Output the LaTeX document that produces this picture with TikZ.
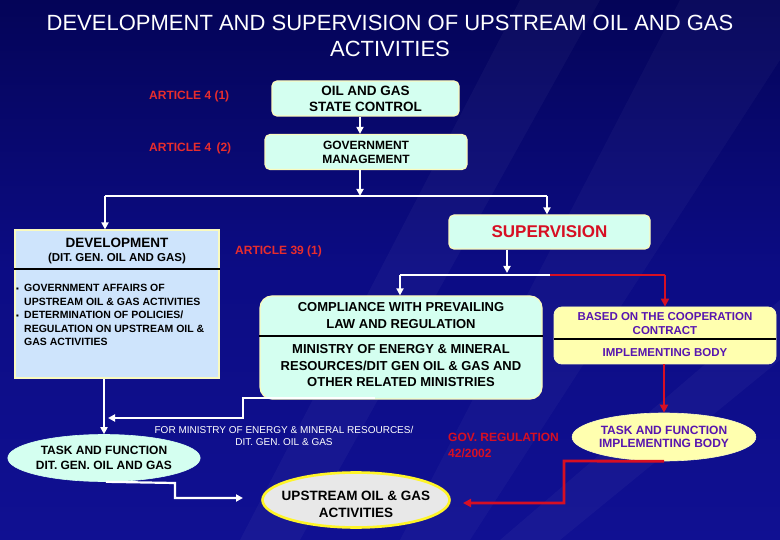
\documentclass[tikz,border=0pt]{standalone}
\usepackage{fontspec}
\setmainfont{Liberation Sans}
\usetikzlibrary{shapes.geometric,arrows.meta,calc}
\definecolor{bgtop}{RGB}{4,4,88}
\definecolor{bgbot}{RGB}{16,16,146}
\definecolor{cyanfill}{RGB}{212,255,240}
\definecolor{devfill}{RGB}{206,228,252}
\definecolor{yelfill}{RGB}{255,255,175}
\definecolor{paleborder}{RGB}{250,250,190}
\definecolor{redline}{RGB}{215,15,35}
\definecolor{redtext}{RGB}{232,45,45}
\definecolor{purtext}{RGB}{88,22,175}
\definecolor{greyfill}{RGB}{232,232,232}
\newcommand\myfs[2]{\fontsize{#1}{#2}\selectfont}
\tikzset{
  boxc/.style={draw=paleborder, line width=1.2pt, fill=cyanfill, rounded corners=5pt},
  wline/.style={draw=white, line width=2.2pt, -{Triangle[length=7pt,width=7pt]}},
  wplain/.style={draw=white, line width=2.2pt},
  rline/.style={draw=redline, line width=2.8pt, -{Triangle[length=8pt,width=8pt]}},
  rplain/.style={draw=redline, line width=2.8pt},
  redlbl/.style={text=redtext, font=\myfs{12}{16}\bfseries, anchor=west, inner sep=0pt, align=left},
  divline/.style={draw=black, line width=1.8pt},
  txt/.style={inner sep=0pt, align=center}
}
\begin{document}
\begin{tikzpicture}[x=1pt,y=-1pt]
\useasboundingbox (0,0) rectangle (780,540);
% background
\shade[top color=bgtop, bottom color=bgbot, middle color={rgb,255:red,12;green,12;blue,132}] (0,0) rectangle (780,540);
\fill[white,opacity=0.035] (520,0) -- (600,0) -- (300,540) -- (240,540) -- cycle;
\fill[white,opacity=0.03] (680,0) -- (780,0) -- (780,60) -- (470,540) -- (400,540) -- cycle;
\fill[white,opacity=0.035] (780,300) -- (780,360) -- (560,540) -- (500,540) -- cycle;

% title
\node[txt, text=white, font=\myfs{22}{26}] (title) at (390,36) {DEVELOPMENT AND SUPERVISION OF UPSTREAM OIL AND GAS\\ACTIVITIES};

% top boxes
\node[boxc, minimum width=187pt, minimum height=35pt, font=\myfs{13.5}{16}\bfseries, align=center] (ctrl) at (365.5,98.5) {OIL AND GAS\\STATE CONTROL};
\node[boxc, minimum width=202pt, minimum height=35pt, font=\myfs{12}{14}\bfseries, align=center] (gov) at (366,152) {GOVERNMENT\\MANAGEMENT};
\node[redlbl] (a41) at (149,96) {ARTICLE 4 (1)};
\node[redlbl] (a42) at (149,148) {ARTICLE 4 \,(2)};

% supervision
\node[boxc, minimum width=201pt, minimum height=34pt, text=redline, font=\myfs{17}{20}\bfseries] (sup) at (549.5,232) {SUPERVISION};

% development box
\node[draw=paleborder, line width=1.2pt, fill=devfill, minimum width=204pt, minimum height=148pt] (dev) at (117,304) {};
\draw[divline] (dev.west |- 0,269) -- (dev.east |- 0,269);
\node[txt, font=\myfs{13.5}{16}\bfseries] (devt) at (117,243) {DEVELOPMENT};
\node[txt, font=\myfs{11.5}{14}\bfseries] (devs) at (117,259) {(DIT. GEN. OIL AND GAS)};
\node[inner sep=0pt, anchor=north west, align=left, font=\myfs{10.5}{13.5}\bfseries] (devb) at (16,284)
 {\makebox[8pt][l]{\myfs{8}{13.5}▪}GOVERNMENT AFFAIRS OF\\
  \hspace*{8pt}UPSTREAM OIL \& GAS ACTIVITIES\\
  \makebox[8pt][l]{\myfs{8}{13.5}▪}DETERMINATION OF POLICIES/\\
  \hspace*{8pt}REGULATION ON UPSTREAM OIL \&\\
  \hspace*{8pt}GAS ACTIVITIES};

\node[redlbl] (a39) at (235,251) {ARTICLE 39 (1)};

% compliance box
\node[boxc, rounded corners=12pt, minimum width=282pt, minimum height=103pt] (comp) at (401,347.5) {};
\draw[divline] (comp.west |- 0,336) -- (comp.east |- 0,336);
\node[txt, font=\myfs{13}{17}\bfseries] (compt) at (401,315.5) {COMPLIANCE WITH PREVAILING\\LAW AND REGULATION};
\node[txt, font=\myfs{13}{16.5}\bfseries] (compb) at (401,366) {MINISTRY OF ENERGY \& MINERAL\\RESOURCES/DIT GEN OIL \& GAS AND\\OTHER RELATED MINISTRIES};

% yellow box
\node[fill=yelfill, draw=paleborder, line width=0.8pt, rounded corners=8pt, minimum width=222pt, minimum height=57pt] (coop) at (665,335.5) {};
\draw[divline] (coop.west |- 0,339) -- (coop.east |- 0,339);
\node[txt, text=purtext, font=\myfs{11.5}{14}\bfseries] (coopt) at (665,324) {BASED ON THE COOPERATION\\CONTRACT};
\node[txt, text=purtext, font=\myfs{11.5}{14}\bfseries] (coopb) at (665,352.5) {IMPLEMENTING BODY};

% ellipses
\node[ellipse, fill=yelfill, draw=paleborder, line width=0.6pt, minimum width=178pt, minimum height=48pt, inner sep=0pt, text=purtext, font=\myfs{12}{13.5}\bfseries, align=center] (impl) at (664,437) {TASK AND FUNCTION\\IMPLEMENTING BODY};
\node[ellipse, fill=cyanfill, draw=cyanfill, line width=0.6pt, minimum width=171pt, minimum height=47pt, inner sep=0pt, font=\myfs{12}{15}\bfseries, align=center] (tfd) at (104,458) {TASK AND FUNCTION\\DIT. GEN. OIL AND GAS};
\node[ellipse, fill=greyfill, draw={rgb,255:red,255;green,245;blue,40}, line width=2.6pt, minimum width=187pt, minimum height=55pt, inner sep=0pt] (up) at (356,500) {};
\node[txt, font=\myfs{13.5}{17}\bfseries] (upt) at (356,504.5) {UPSTREAM OIL \& GAS\\ACTIVITIES};

% labels
\node[txt, text=white, font=\myfs{10}{12}] (formin) at (284,436) {FOR MINISTRY OF ENERGY \& MINERAL RESOURCES/\\DIT. GEN. OIL \& GAS};
\node[redlbl, text=redline] (govreg) at (448,445) {GOV. REGULATION\\42/2002};

% connectors
\coordinate (jC) at (360,196);
\coordinate (jL) at (105,196);
\coordinate (jR) at (547,196);
\draw[wline] (ctrl.south -| 360,0) -- (gov.north -| 360,0);
\draw[wline, shorten >=-2pt] (gov.south -| jC) -- ($(jC)+(0,-2)$);
\draw[wplain] (jR) -- (jL);
\draw[wline] (jL) -- (jL |- dev.north);
\draw[wline] (jR) -- (jR |- sup.north);

\coordinate (jS) at (507,275);
\coordinate (jW) at (400,275);
\coordinate (jM) at (550,275);
\coordinate (jY) at (665,275);
\draw[wline] (sup.south -| jS) -- ($(jS)+(0,-2)$);
\draw[wplain] (jM) -- (jW);
\draw[wline] (jW) -- (jW |- comp.north);
\draw[rplain] (jM) -- (jY);
\draw[rline] (jY) -- (coop.north -| jY);
\draw[rline] (coop.south -| 664,0) -- (impl.north);

\coordinate (k1) at (375,398);
\coordinate (k2) at (243,398);
\coordinate (k3) at (243,418);
\coordinate (k4) at (108,418);
\draw[wline] (k1) -- (k2) -- (k3) -- (k4);
\draw[wline] (dev.south -| 104,0) -- (tfd.north);

\coordinate (m1) at (175,483);
\coordinate (m2) at (175,498);
\coordinate (m3) at (243,498);
\draw[wline] (tfd.south -| 106,0) -- (m1) -- (m2) -- (m3);

\coordinate (r1) at (564,461);
\coordinate (r2) at (564,503);
\coordinate (r3) at (463,503);
\draw[rline] (impl.south) -- (r1) -- (r2) -- (r3);
\end{tikzpicture}
\end{document}
